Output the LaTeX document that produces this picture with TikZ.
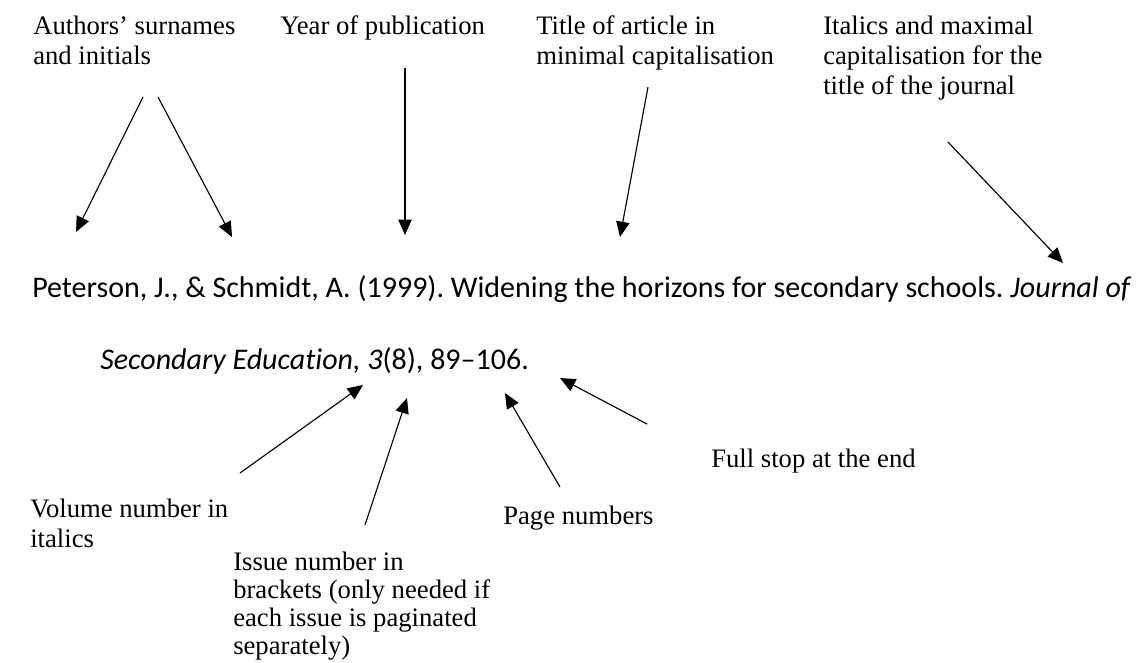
\documentclass[tikz,border=0pt]{standalone}
\usepackage{fontspec}
\setmainfont{Liberation Serif}
\newfontfamily\calibri[Ligatures={TeX,NoCommon}]{Carlito}
\usetikzlibrary{arrows.meta}
\frenchspacing

\begin{document}
\begin{tikzpicture}[x=0.75pt, y=-0.75pt,
  lbl/.style={anchor=base west, inner sep=0pt, align=left, font=\fontsize{20}{22.5}\selectfont},
  cite/.style={anchor=base west, inner sep=0pt, font=\calibri\fontsize{22.5}{27}\selectfont},
  ptr/.style={-{Triangle[length=11.5pt, width=10pt]}, line width=0.85pt}]
  \useasboundingbox (0,0) rectangle (1147,662);

  % Labels above the reference (placed by the baseline of the last line)
  \node[lbl] (authors) at (33,64) {Authors' surnames\\and initials};
  \node[lbl] (year) at (280,34) {Year of publication};
  \node[lbl] (title) at (536,64) {Title of article in\\minimal capitalisation};
  \node[lbl] (jtitle) at (823,94) {Italics and maximal\\capitalisation for the\\title of the journal};

  % The reference itself
  \node[cite] (line1) at (32,297) {Peterson, J., \& Schmidt, A. (1999). Widening the horizons for secondary schools. \textit{Journal of}};
  \node[cite] (line2) at (100,369) {\textit{Secondary Education, 3}(8), 89--106.};

  % Labels below the reference
  \node[lbl] (volume) at (30,547) {Volume number in\\italics};
  \node[lbl, font=\fontsize{20}{21}\selectfont] (issue) at (233,654) {Issue number in\\brackets (only needed if\\each issue is paginated\\separately)};
  \node[lbl] (pages) at (503,524) {Page numbers};
  \node[lbl] (stop) at (711,467) {Full stop at the end};

  % Arrow ends
  \coordinate (authA) at (143,97);  \coordinate (authAtip) at (76,232);
  \coordinate (authB) at (158,97);  \coordinate (authBtip) at (232,237);
  \coordinate (yr) at (405,68);     \coordinate (yrtip) at (405,235);
  \coordinate (ttl) at (648,87);    \coordinate (ttltip) at (620,237);
  \coordinate (jnl) at (948,142);   \coordinate (jnltip) at (1063,263);
  \coordinate (vol) at (240,473);   \coordinate (voltip) at (363,385);
  \coordinate (iss) at (365,525);   \coordinate (isstip) at (407,398);
  \coordinate (pg) at (560,487);    \coordinate (pgtip) at (505,393);
  \coordinate (fs) at (647,424);    \coordinate (fstip) at (560,378);

  \foreach \a in {authA,authB,yr,ttl,jnl,vol,iss,pg,fs}
    \draw[ptr] (\a) -- (\a tip);
\end{tikzpicture}
\end{document}
